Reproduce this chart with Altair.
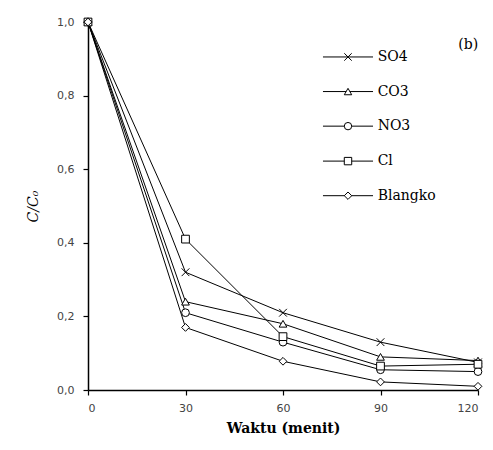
import altair as alt
import pandas as pd

series = ["SO4", "CO3", "NO3", "Cl", "Blangko"]
times = [0, 30, 60, 90, 120]
so4 = [1.0, 0.32, 0.21, 0.13, 0.075]
co3 = [1.0, 0.24, 0.18, 0.09, 0.08]
no3 = [1.0, 0.21, 0.13, 0.055, 0.05]
cl = [1.0, 0.41, 0.145, 0.065, 0.07]
blangko = [1.0, 0.17, 0.078, 0.022, 0.01]
x_ticks = [0, 30, 60, 90, 120]
y_ticks = [0.0, 0.2, 0.4, 0.6, 0.8, 1.0]

xpath = "M-1,-1L1,1M-1,1L1,-1"
shapes = [xpath, "triangle-up", "circle", "square", "diamond"]

# legend placement in data units
legend_y = [0.905, 0.811, 0.717, 0.622, 0.528]
legend_x1, legend_x2, legend_xm, legend_xt = 72.3, 87.7, 80.0, 88.5

values = {"SO4": so4, "CO3": co3, "NO3": no3, "Cl": cl, "Blangko": blangko}
rows = []
for s in series:
    for t, v in zip(times, values[s]):
        rows.append({"series": s, "t": t, "c": v})
df = pd.DataFrame(rows)

leg = pd.DataFrame({
    "series": series,
    "ly": legend_y,
    "x1": [legend_x1] * 5,
    "x2": [legend_x2] * 5,
    "xm": [legend_xm] * 5,
    "xt": [legend_xt] * 5,
})

serif = "DejaVu Serif"
sans = "DejaVu Sans"

xscale = alt.Scale(domain=[0, 120], nice=False)
yscale = alt.Scale(domain=[0, 1.0], nice=False)
shape_scale = alt.Scale(domain=series, range=shapes)

x_enc = alt.X("t:Q", scale=xscale, axis=alt.Axis(
    values=x_ticks, title="Waktu (menit)", grid=False,
    titleFont=serif, titleFontWeight="bold", titleFontSize=14, titleColor="black",
    labelFont=sans, labelFontSize=11, labelColor="#444", labelPadding=7,
    tickSize=5, tickColor="black", domainColor="black", domainWidth=1.5, tickWidth=1.2,
    titlePadding=8))
y_enc = alt.Y("c:Q", scale=yscale, axis=alt.Axis(
    values=y_ticks, title="C/C₀", grid=False,
    labelExpr="replace(format(datum.value, '.1f'), '.', ',')",
    titleFont=serif, titleFontStyle="italic", titleFontWeight="normal", titleFontSize=14,
    titleColor="black", titlePadding=16,
    labelFont=sans, labelFontSize=11, labelColor="#444", labelPadding=9,
    tickSize=5, tickColor="black", domainColor="black", domainWidth=1.5, tickWidth=1.2))

lines = alt.Chart(df).mark_line(color="black", strokeWidth=1).encode(
    x=x_enc, y=y_enc, detail="series:N")
points = alt.Chart(df).mark_point(fill="white", stroke="black", strokeWidth=1,
                                  opacity=1, fillOpacity=1, size=60).encode(
    x="t:Q", y="c:Q",
    shape=alt.Shape("series:N", scale=shape_scale, legend=None))

leg_line = alt.Chart(leg).mark_rule(color="black", strokeWidth=1).encode(
    x="x1:Q", x2="x2:Q", y="ly:Q")
leg_pt = alt.Chart(leg).mark_point(fill="white", stroke="black", strokeWidth=1,
                                   opacity=1, fillOpacity=1, size=55).encode(
    x="xm:Q", y="ly:Q",
    shape=alt.Shape("series:N", scale=shape_scale, legend=None))
leg_txt = alt.Chart(leg).mark_text(align="left", baseline="middle", font=serif,
                                   fontSize=14, color="black", dx=2).encode(
    x="xt:Q", y="ly:Q", text="series:N")

label_b = alt.Chart(pd.DataFrame({"t": [117.0], "c": [0.937], "txt": ["(b)"]})).mark_text(
    align="center", baseline="middle", font=serif, fontSize=14, color="black").encode(
    x="t:Q", y="c:Q", text="txt:N")

chart = alt.layer(lines, points, leg_line, leg_pt, leg_txt, label_b).properties(
    width=390, height=368,
    padding={"left": 88, "top": 22, "right": 15, "bottom": 60},
    autosize=alt.AutoSizeParams(type="none"),
    background="white",
).configure_view(stroke=None)

chart.save("out.html", embed_options={"renderer": "svg", "actions": False})
